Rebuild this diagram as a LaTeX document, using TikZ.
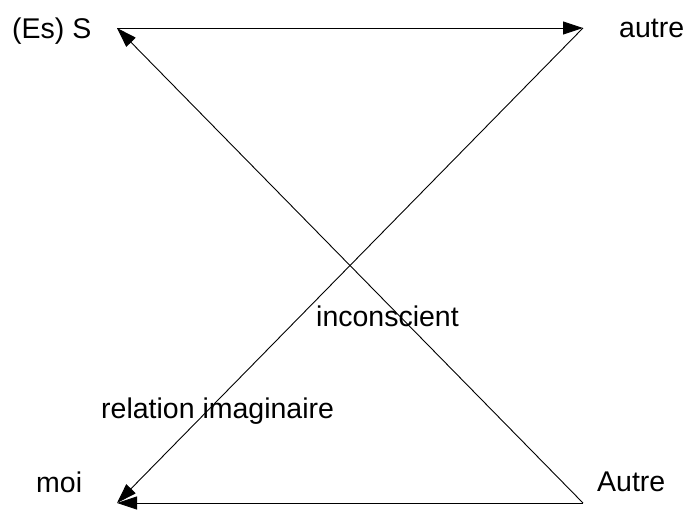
\documentclass[tikz,border=0pt]{standalone}
\usepackage{fontspec}
\setmainfont{Liberation Sans}
\usetikzlibrary{arrows.meta}
\begin{document}
\begin{tikzpicture}[x=1pt,y=-1pt,
  lbl/.style={inner sep=0pt,anchor=base west,font=\fontsize{28.5}{33}\selectfont},
  arr/.style={line width=0.9pt,-{Triangle[length=20pt,width=13pt]}}]
\useasboundingbox (0,0) rectangle (688,509);
\coordinate (S) at (117,28);
\coordinate (a) at (583,28);
\coordinate (m) at (117,503);
\coordinate (A) at (583,503);
\node[lbl] (tS) at (12,38) {(Es) S};
\node[lbl] (ta) at (619,37) {autre};
\node[lbl] (tm) at (36,492) {moi};
\node[lbl] (tA) at (597,491) {Autre};
\node[lbl] (ti) at (316,326) {inconscient};
\node[lbl] (tr) at (101,418) {relation imaginaire};
\draw[arr] (S) -- (a);
\draw[arr] (A) -- (m);
\draw[arr] (A) -- (S);
\draw[arr] (a) -- (m);
\end{tikzpicture}
\end{document}
